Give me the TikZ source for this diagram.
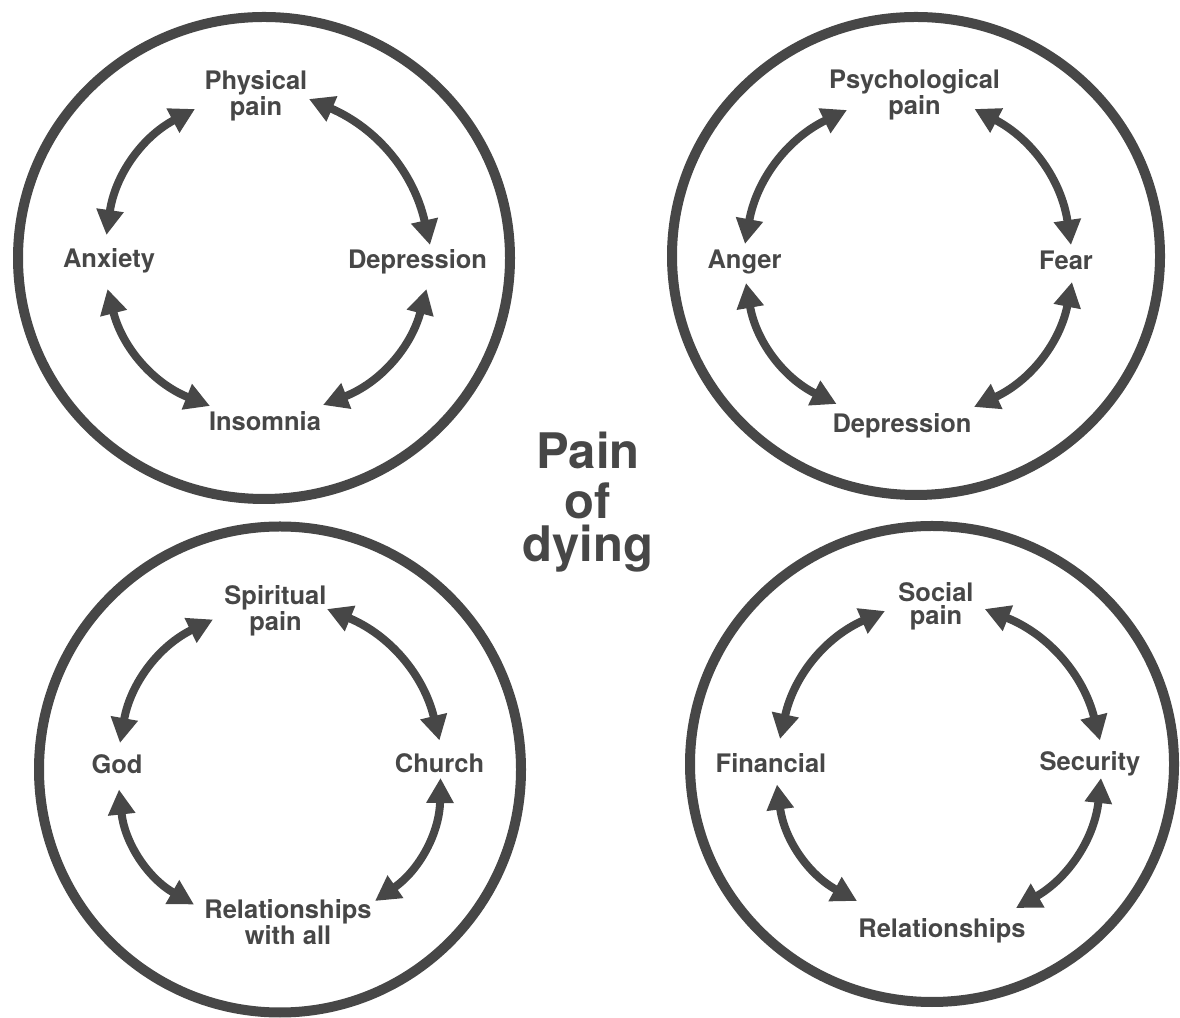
\documentclass[tikz,border=0pt]{standalone}
\usepackage{fontspec}
\setmainfont{TeX Gyre Heros}
\usetikzlibrary{arrows.meta}
\definecolor{ink}{HTML}{474747}
\begin{document}
\begin{tikzpicture}[x=1pt,y=1pt,
  lbl/.style={font=\fontsize{25.5}{23.5}\selectfont\bfseries, text=ink, inner sep=0pt, align=center, anchor=base},
  ring/.style={draw=ink, line width=10pt},
  arr/.style={draw=ink, line width=8pt, {Triangle[length=25pt,width=26pt]}-{Triangle[length=25pt,width=26pt]}, bend left=27},
  ttl/.style={font=\fontsize{49}{50}\selectfont\bfseries, text=ink, inner sep=0pt, align=center, anchor=north}]
\useasboundingbox (0,0) rectangle (1180,1017);

% rings
\draw[ring] (264,759) ellipse [x radius=246pt, y radius=241pt];
\draw[ring] (916,761) ellipse [x radius=244pt, y radius=239pt];
\draw[ring] (280,247.5) ellipse [x radius=241pt, y radius=243pt];
\draw[ring] (932,253) ellipse [x radius=242pt, y radius=238pt];

% centre title
\node[ttl] (pod) at (588,585.3) {Pain\\of\\[-7pt]dying};

% top left: physical
\node[lbl] (phys) at (256,901.5) {Physical\\pain};
\node[lbl] (anx) at (109,749) {Anxiety};
\node[lbl] (dep1) at (417.5,748) {Depression};
\node[lbl] (ins) at (265,586) {Insomnia};
\draw[arr] ([shift={(-2.5,33)}]anx.base) to ([shift={(-61,6.5)}]phys.base);
\draw[arr] ([shift={(53,16.5)}]phys.base) to ([shift={(12.5,24)}]dep1.base);
\draw[arr] ([shift={(9,-20)}]dep1.base) to ([shift={(58,26)}]ins.base);
\draw[arr] ([shift={(-55,25)}]ins.base) to ([shift={(-1.5,-21)}]anx.base);

% top right: psychological
\node[lbl] (psy) at (914.5,902.9) {Psychological\\pain};
\node[lbl] (ang) at (744.5,748) {Anger};
\node[lbl] (fear) at (1066,747) {Fear};
\node[lbl] (dep2) at (902,584) {Depression};
\draw[arr] ([shift={(0.5,25)}]ang.base) to ([shift={(-67.5,4.1)}]psy.base);
\draw[arr] ([shift={(60,5.1)}]psy.base) to ([shift={(5,25)}]fear.base);
\draw[arr] ([shift={(6,-12)}]fear.base) to ([shift={(72,26)}]dep2.base);
\draw[arr] ([shift={(-65.4,29)}]dep2.base) to ([shift={(1.5,-14)}]ang.base);

% bottom left: spiritual
\node[lbl] (spir) at (275.5,386.5) {Spiritual\\pain};
\node[lbl] (god) at (117,243) {God};
\node[lbl] (church) at (439.5,244) {Church};
\node[lbl] (relall) at (288,72.5) {Relationships\\with all};
\draw[arr] ([shift={(3,31)}]god.base) to ([shift={(-62.5,11)}]spir.base);
\draw[arr] ([shift={(51.5,21.5)}]spir.base) to ([shift={(0,32.5)}]church.base);
\draw[arr] ([shift={(1,-5)}]church.base) to ([shift={(87,43.5)}]relall.base);
\draw[arr] ([shift={(-94,40)}]relall.base) to ([shift={(2,-15.5)}]god.base);

% bottom right: social
\node[lbl] (soc) at (936,392) {Social\\pain};
\node[lbl] (fin) at (771,244.3) {Financial};
\node[lbl] (sec) at (1090,246) {Security};
\node[lbl] (rel) at (942,79) {Relationships};
\draw[arr] ([shift={(9,33.7)}]fin.base) to ([shift={(-51,14)}]soc.base);
\draw[arr] ([shift={(48.7,16)}]soc.base) to ([shift={(10,30.5)}]sec.base);
\draw[arr] ([shift={(11,-7)}]sec.base) to ([shift={(74,30)}]rel.base);
\draw[arr] ([shift={(-85,37)}]rel.base) to ([shift={(6,-11.8)}]fin.base);
\end{tikzpicture}
\end{document}
